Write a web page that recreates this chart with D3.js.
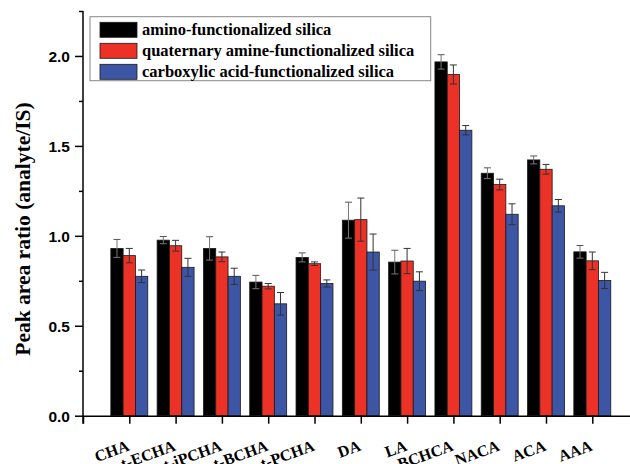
<!DOCTYPE html>
<html>
<head>
<meta charset="utf-8">
<script src="https://cdn.jsdelivr.net/npm/d3@7"></script>
<style>
  body { margin: 0; background: #fff; }
  svg { display: block; }
</style>
</head>
<body>
<div id="chart"></div>
<script>
// chart values
var categories = ["CHA", "t-ECHA", "t-iPCHA", "t-BCHA", "t-PCHA", "DA", "LA", "BCHCA", "NACA", "ACA", "AAA"];
var seriesNames = ["amino-functionalized silica", "quaternary amine-functionalized silica", "carboxylic acid-functionalized silica"];
var amino = [0.93, 0.976, 0.93, 0.743, 0.88, 1.087, 0.854, 1.967, 1.348, 1.422, 0.911];
var aminoErr = [0.05, 0.02, 0.065, 0.037, 0.025, 0.10, 0.066, 0.04, 0.03, 0.022, 0.035];
var quaternary = [0.89, 0.945, 0.883, 0.72, 0.845, 1.09, 0.86, 1.897, 1.285, 1.37, 0.861];
var quaternaryErr = [0.04, 0.03, 0.027, 0.015, 0.01, 0.12, 0.07, 0.053, 0.03, 0.027, 0.049];
var carboxylic = [0.775, 0.825, 0.775, 0.622, 0.735, 0.91, 0.748, 1.587, 1.12, 1.167, 0.752];
var carboxylicErr = [0.035, 0.05, 0.045, 0.063, 0.02, 0.10, 0.052, 0.026, 0.058, 0.035, 0.045];
var yTicks = [0.0, 0.5, 1.0, 1.5, 2.0];
var yMinorTicks = [0.25, 0.75, 1.25, 1.75, 2.25];

var width = 630, height = 464;
var colors = ["#000000", "#ec3126", "#3c55a5"];
var serif = "'Liberation Serif', 'Times New Roman', serif";
var sans = "'Liberation Sans', Arial, sans-serif";

var svg = d3.select("#chart").append("svg")
    .attr("width", width)
    .attr("height", height);

var x = d3.scaleLinear().domain([0, 12]).range([83, 638.6]);
var y = d3.scaleLinear().domain([0, 2.25]).range([415.7, 11]);
var bw = 0.266; // bar width in category units

// build one row per bar
var series = [
    { values: amino, errs: aminoErr },
    { values: quaternary, errs: quaternaryErr },
    { values: carboxylic, errs: carboxylicErr }
];
var bars = [];
series.forEach((s, k) => {
    s.values.forEach((v, i) => {
        bars.push({ k: k, pos: i + 1 + (k - 1) * bw, value: v, err: s.errs[i] });
    });
});

// bars
svg.append("g").selectAll("rect")
    .data(bars)
    .join("rect")
    .attr("x", d => x(d.pos - bw / 2))
    .attr("width", d => x(d.pos + bw / 2) - x(d.pos - bw / 2))
    .attr("y", d => y(d.value))
    .attr("height", d => y(0) - y(d.value))
    .attr("fill", d => colors[d.k])
    .attr("stroke", "#1a1a1a")
    .attr("stroke-width", 0.8);

// error bars
var eb = svg.append("g")
    .attr("stroke-width", 1)
    .selectAll("g")
    .data(bars)
    .join("g");
eb.append("line")
    .attr("x1", d => x(d.pos)).attr("x2", d => x(d.pos))
    .attr("y1", d => y(d.value - d.err)).attr("y2", d => y(d.value + d.err))
    .attr("stroke", d => d.k === 0 ? "#777" : "#333");
eb.append("line")
    .attr("x1", d => x(d.pos) - 3.5).attr("x2", d => x(d.pos) + 3.5)
    .attr("y1", d => y(d.value + d.err)).attr("y2", d => y(d.value + d.err))
    .attr("stroke", d => d.k === 0 ? "#555" : "#333");
eb.append("line")
    .attr("x1", d => x(d.pos) - 3.5).attr("x2", d => x(d.pos) + 3.5)
    .attr("y1", d => y(d.value - d.err)).attr("y2", d => y(d.value - d.err))
    .attr("stroke", d => d.k === 0 ? "#777" : "#333");

// y axis
var yAxis = svg.append("g")
    .attr("transform", `translate(${x(0)},0)`)
    .call(d3.axisLeft(y).tickValues(yTicks).tickFormat(d3.format(".1f")).tickSize(8).tickSizeOuter(0));
yAxis.select(".domain").remove();
yAxis.selectAll("line").attr("stroke", "#000").attr("stroke-width", 1.5);
yAxis.selectAll("text")
    .attr("font-family", sans)
    .attr("font-weight", "bold")
    .attr("font-size", 15.5)
    .attr("fill", "#000")
    .attr("x", -13)
    .attr("dy", "0.36em");
svg.append("g")
    .attr("transform", `translate(${x(0)},0)`)
    .call(d3.axisLeft(y).tickValues(yMinorTicks).tickSize(4).tickFormat(""))
    .call(g => g.select(".domain").remove())
    .selectAll("line").attr("stroke", "#000").attr("stroke-width", 1.5);
svg.append("line")
    .attr("x1", x(0)).attr("x2", x(0))
    .attr("y1", y(2.25)).attr("y2", y(0) + 8)
    .attr("stroke", "#000").attr("stroke-width", 1.5);

// x axis
var xAxis = svg.append("g")
    .attr("transform", `translate(0,${y(0)})`)
    .call(d3.axisBottom(x).tickValues(d3.range(0, 12)).tickSize(8).tickSizeOuter(0).tickFormat(""));
xAxis.select(".domain").attr("stroke", "#000").attr("stroke-width", 1.5);
xAxis.selectAll("line").attr("stroke", "#000").attr("stroke-width", 1.5);

svg.append("g").selectAll("text")
    .data(categories)
    .join("text")
    .attr("transform", (d, i) => `translate(${x(i + 1) + 1},450) rotate(-20)`)
    .attr("text-anchor", "end")
    .attr("font-family", serif)
    .attr("font-weight", "bold")
    .attr("font-size", 16)
    .text(d => d);

// y label
svg.append("text")
    .attr("transform", "translate(30,229) rotate(-90)")
    .attr("text-anchor", "middle")
    .attr("font-family", serif)
    .attr("font-weight", "bold")
    .attr("font-size", 21.5)
    .text("Peak area ratio (analyte/IS)");

// legend
var legend = svg.append("g");
legend.append("rect")
    .attr("x", 90).attr("y", 16.7)
    .attr("width", 340.7).attr("height", 64)
    .attr("fill", "#fff")
    .attr("stroke", "#888")
    .attr("stroke-width", 1);
var item = legend.selectAll(".item")
    .data(seriesNames)
    .join("g")
    .attr("class", "item")
    .attr("transform", (d, i) => `translate(100,${22.3 + i * 21})`);
item.append("rect")
    .attr("width", 37).attr("height", 15)
    .attr("fill", (d, i) => colors[i])
    .attr("stroke", "#1a1a1a").attr("stroke-width", 0.8);
item.append("text")
    .attr("x", 42).attr("y", 13)
    .attr("font-family", serif)
    .attr("font-weight", "bold")
    .attr("font-size", 16.5)
    .text(d => d);
</script>
</body>
</html>
